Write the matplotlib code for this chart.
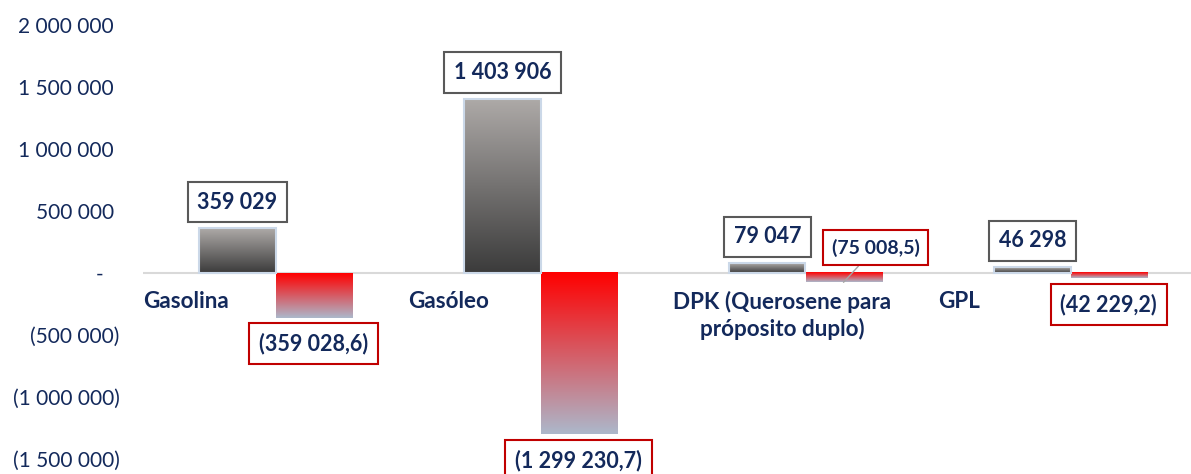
import numpy as np
import matplotlib
matplotlib.use("Agg")
import matplotlib.pyplot as plt
from matplotlib.colors import LinearSegmentedColormap
from matplotlib.ticker import FuncFormatter

# data
categories = ["Gasolina", "Gasóleo", "DPK (Querosene para\npróposito duplo)", "GPL"]
entradas = [359029, 1403906, 79047, 46298]
saidas = [-359028.6, -1299230.7, -75008.5, -42229.2]
yticks = [-1500000, -1000000, -500000, 0, 500000, 1000000, 1500000, 2000000]

navy = "#13295b"
plt.rcParams["font.family"] = ["Lato", "DejaVu Sans"]


def fmt_axis(v, pos=None):
    if v == 0:
        return "-   "
    s = f"{abs(v):,.0f}".replace(",", " ")
    return f"({s})" if v < 0 else s + " "


def fmt_pos(v):
    return f"{v:,.0f}".replace(",", " ")


def fmt_neg(v):
    s = f"{abs(v):,.1f}".replace(",", " ").replace(".", ",")
    return f"({s})"


def gradient_fill(ax, bar, c_top, c_bot):
    x0, y0 = bar.get_x(), bar.get_y()
    w, h = bar.get_width(), bar.get_height()
    cmap = LinearSegmentedColormap.from_list("g", [c_bot, c_top])
    grad = np.linspace(0, 1, 256).reshape(-1, 1)
    ax.imshow(grad, extent=[x0, x0 + w, min(y0, y0 + h), max(y0, y0 + h)],
              origin="lower", cmap=cmap, aspect="auto", zorder=2)


fig = plt.figure(figsize=(11.91, 4.74), dpi=100)
ax = fig.add_axes([143 / 1191, 15 / 474, 1060 / 1191, 434 / 474])

x = np.arange(len(categories))
w = 0.287

b_pos = ax.bar(x - w / 2, entradas, w, facecolor="none", edgecolor="#cbd8e8", linewidth=1.5, zorder=3)
b_neg = ax.bar(x + w / 2, saidas, w, facecolor="none", edgecolor="none", zorder=3)

for b in b_pos:
    gradient_fill(ax, b, "#aeaaa8", "#3b3b3b")
for b in b_neg:
    gradient_fill(ax, b, "#ff0000", "#acb8cb")

ax.axhline(0, color="#d9d9d9", linewidth=1.5, zorder=1)

ax.set_xlim(-0.5, len(categories) - 0.5)
ax.set_ylim(-1500000, 2000000)
ax.set_yticks(yticks)
ax.yaxis.set_major_formatter(FuncFormatter(fmt_axis))
ax.tick_params(axis="y", length=0, pad=17, labelsize=15, labelcolor=navy)
ax.set_xticks([])
for s in ax.spines.values():
    s.set_visible(False)

# category labels
for i, c in enumerate(categories):
    ax.annotate(c, xy=(i - 0.5, 0), xytext=(0, -13), textcoords="offset points",
                ha="left", va="top", multialignment="center", linespacing=1.25,
                fontsize=16.2, fontweight="bold", color=navy, annotation_clip=False)

# value labels
for b, v in zip(b_pos, entradas):
    ax.annotate(fmt_pos(v), xy=(b.get_x() + b.get_width() / 2, v), xytext=(0, 19),
                textcoords="offset points", ha="center", va="center",
                fontsize=15.5, fontweight="bold", color=navy, zorder=5,
                bbox=dict(boxstyle="square,pad=0.45", fc="white", ec="#595959", lw=1.5))

for i, (b, v) in enumerate(zip(b_neg, saidas)):
    bx = b.get_x() + b.get_width() / 2
    if i == 2:
        ax.annotate(fmt_neg(v), xy=(bx, v), xytext=(23, 25), textcoords="offset points",
                    ha="center", va="center", fontsize=14, fontweight="bold", color=navy, zorder=5,
                    bbox=dict(boxstyle="square,pad=0.45", fc="white", ec="#c00000", lw=1.5),
                    arrowprops=dict(arrowstyle="-", color="#a6a6a6", lw=1, shrinkA=0, shrinkB=0))
    else:
        ax.annotate(fmt_neg(v), xy=(bx, v), xytext=(0, -19), textcoords="offset points",
                    ha="center", va="center", fontsize=15.5, fontweight="bold", color=navy,
                    zorder=5, annotation_clip=False,
                    bbox=dict(boxstyle="square,pad=0.45", fc="white", ec="#c00000", lw=1.5))

fig.savefig("out.png", dpi=100)
